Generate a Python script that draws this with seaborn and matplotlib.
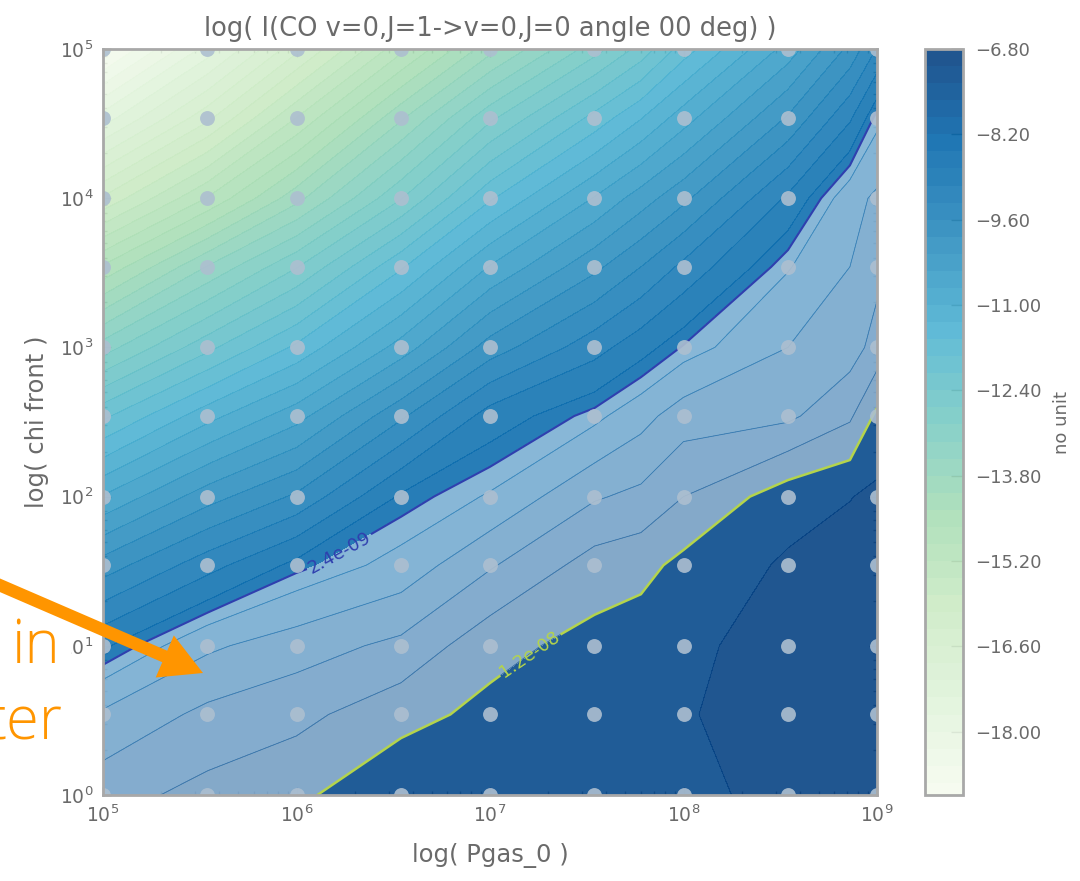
import numpy as np
import seaborn as sns
import matplotlib
matplotlib.use("Agg")
import matplotlib.pyplot as plt
from matplotlib.patches import Rectangle, FancyArrowPatch
from matplotlib.ticker import FixedLocator

# -----------------------------
# Data (everything is log10)
log_pgas = [5, 5.54, 6, 6.54, 7, 7.54, 7.78, 8, 8.54, 8.86, 9]
log_chi = [0, 0.54, 1, 1.54, 2, 2.54, 3, 3.54, 4, 4.54, 5]

# sampled model points, without the two extra columns
point_pgas = [5, 5.54, 6, 6.54, 7, 7.54, 8, 8.54, 9]

# one list per log_pgas column, from chi = 1e0 up to chi = 1e5
col_500 = [-7.75, -8.15, -8.80, -9.75, -10.7, -11.9, -13.1, -14.6, -16.0, -17.6, -19.0]
col_554 = [-7.55, -7.85, -8.25, -9.15, -10.0, -11.1, -12.2, -13.5, -14.9, -16.4, -17.6]
col_600 = [-7.42, -7.72, -8.05, -8.68, -9.55, -10.55, -11.5, -12.7, -13.9, -15.2, -16.4]
col_654 = [-7.12, -7.46, -7.85, -8.38, -8.72, -9.65, -10.6, -11.6, -12.7, -13.85, -15.0]
col_700 = [-7.15, -7.28, -7.455, -7.95, -8.45, -8.91, -9.75, -10.7, -11.6, -12.75, -13.9]
col_754 = [-7.10, -7.15, -7.26, -7.52, -7.95, -8.55, -9.15, -9.95, -10.7, -11.75, -12.8]
col_778 = [-7.20, -7.15, -7.20, -7.45, -7.85, -8.30, -8.866, -9.6, -10.3, -11.3, -12.3]
col_800 = [-7.25, -7.12, -7.20, -7.28, -7.64, -8.05, -8.60, -9.25, -9.95, -10.85, -11.7]
col_854 = [-6.88, -6.85, -6.85, -7.04, -7.20, -7.98, -8.20, -8.50, -8.99, -9.85, -10.6]
col_886 = [-6.85, -6.85, -6.85, -6.95, -7.09, -7.685, -8.05, -8.20, -8.30, -9.086, -9.8]
col_900 = [-6.85, -6.85, -6.85, -6.90, -7.02, -7.30, -7.81, -8.00, -8.15, -8.55, -9.3]

cbar_ticks = [-6.8, -8.2, -9.6, -11.0, -12.4, -13.8, -15.2, -16.6, -18.0]
x_ticks = [5, 6, 7, 8, 9]
y_ticks = [0, 1, 2, 3, 4, 5]
minor_mult = [2, 3, 4, 5, 6, 7, 8, 9]

# band shown in the paler colour, the top edge sits at the label's place in the colours
band_low = -8.62
band_high = -7.36
band_labels = {band_low: "2.4e-09", band_high: "1.2e-08"}

title = "log( I(CO v=0,J=1->v=0,J=0 angle 00 deg) )"
grey = "#6a6a6a"
frame = "#a8a8a8"
orange = "#ff9500"

# -----------------------------
Z = np.column_stack([col_500, col_554, col_600, col_654, col_700, col_754,
                     col_778, col_800, col_854, col_886, col_900])
levels = np.append(-19.04, np.arange(-18.84, -6.79, 0.28))

sns.set_theme(style="white")
plt.rcParams["font.family"] = ["DejaVu Sans"]
plt.rcParams["mathtext.default"] = "regular"

fig = plt.figure(figsize=(10.8, 8.81), dpi=100)
ax = fig.add_axes([103 / 1080, 86 / 881, 774 / 1080, 746 / 881])
cax = fig.add_axes([925 / 1080, 86 / 881, 38 / 1080, 746 / 881])

ax.set_xlim(5, 9)
ax.set_ylim(0, 5)

# Filled colours and the thin lines between them
cf = ax.contourf(log_pgas, log_chi, Z, levels=levels, cmap="GnBu", alpha=0.9)
ax.contour(log_pgas, log_chi, Z, levels=levels, cmap="GnBu", linewidths=0.6, alpha=0.6)

# Pale band and its two edges
ax.contourf(log_pgas, log_chi, Z, levels=[band_low, band_high], colors="white", alpha=0.45)
cs = ax.contour(log_pgas, log_chi, Z, levels=[band_low, band_high],
                colors=["#2f3fae", "#b4d44c"], linewidths=[1.5, 1.8])
ax.clabel(cs, fmt=band_labels, fontsize=13, inline=True, inline_spacing=2,
          manual=[(6.214, 1.642), (7.217, 0.925)])

# Model points
px, py = np.meshgrid(point_pgas, log_chi)
sns.scatterplot(x=px.ravel(), y=py.ravel(), s=115, color="#adbfd0", alpha=0.9,
                linewidth=0, ax=ax, zorder=5, legend=False)

# -----------------------------
# Axes
minor_x = [t + np.log10(m) for t in x_ticks[:-1] for m in minor_mult]
minor_y = [t + np.log10(m) for t in y_ticks[:-1] for m in minor_mult]
ax.set_xticks(x_ticks, [f"$10^{{{t}}}$" for t in x_ticks])
ax.set_yticks(y_ticks, [f"$10^{{{t}}}$" for t in y_ticks])
ax.xaxis.set_minor_locator(FixedLocator(minor_x))
ax.yaxis.set_minor_locator(FixedLocator(minor_y))
ax.tick_params(which="major", direction="in", length=6, width=1, color="#555555",
               top=True, right=True, bottom=True, left=True,
               labelsize=13.5, labelcolor=grey, pad=7)
ax.tick_params(which="minor", direction="in", length=3, width=1, color="#555555",
               top=True, right=True, bottom=True, left=True)
for s in ax.spines.values():
    s.set_color(frame)
    s.set_linewidth(2)
    s.set_zorder(6)

ax.set_title(title, fontsize=18.5, color=grey, pad=9)
ax.set_xlabel("log( Pgas_0 )", fontsize=17.5, color=grey, labelpad=12)
ax.set_ylabel("log( chi front )", fontsize=17.5, color=grey, labelpad=8)

# Colour bar
cbar = fig.colorbar(cf, cax=cax, spacing="proportional")
cbar.set_ticks(cbar_ticks, labels=[f"\u2212{abs(t):.2f}" for t in cbar_ticks])
cbar.ax.tick_params(direction="in", length=9, width=1, color="#555555",
                    labelsize=13, labelcolor=grey, pad=9, right=True)
cbar.outline.set_edgecolor(frame)
cbar.outline.set_linewidth(2)
cbar.set_label("no unit", fontsize=13, color=grey, labelpad=8)

# -----------------------------
# Slide text that covers the left side of the figure, with its arrow
fig.add_artist(Rectangle((0, 126 / 881), 71 / 1080, 155 / 881, facecolor="white",
                         edgecolor="none", transform=fig.transFigure, zorder=7))
fig.text(60 / 1080, (881 - 663) / 881, "in", color=orange, fontsize=43, ha="right",
         family="Open Sans", weight="light", zorder=8)
fig.text(62 / 1080, (881 - 739) / 881, "ter", color=orange, fontsize=43, ha="right",
         family="Open Sans", weight="light", zorder=8)
fig.add_artist(FancyArrowPatch(
    posA=(-3 / 1080, (881 - 584) / 881), posB=(203 / 1080, (881 - 673) / 881),
    transform=fig.transFigure, color=orange, mutation_scale=30, shrinkA=0, shrinkB=0,
    linewidth=0, arrowstyle="simple,head_length=1.0,head_width=1.1,tail_width=0.3",
    zorder=9))

fig.savefig("out.png", dpi=100)
